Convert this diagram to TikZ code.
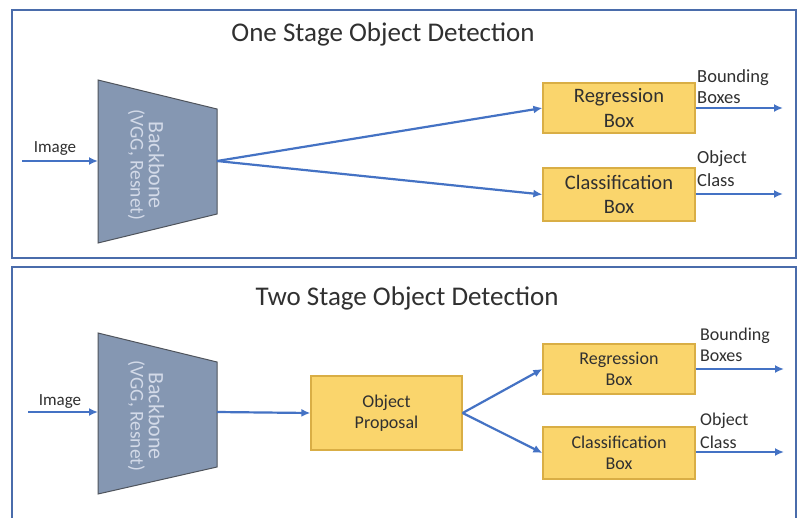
\documentclass[tikz,border=0pt]{standalone}
\usepackage{fontspec}
\setmainfont{Carlito}
\usetikzlibrary{arrows.meta}
\definecolor{panelblue}{HTML}{4A6CAB}
\definecolor{flowblue}{HTML}{4472C4}
\definecolor{boxfill}{HTML}{FAD56C}
\definecolor{boxline}{HTML}{D9AE45}
\definecolor{bbfill}{HTML}{8597B2}
\definecolor{bbline}{HTML}{4F545C}
\definecolor{bbtext}{HTML}{D3DAE8}
\definecolor{inktext}{HTML}{303030}
\newcommand{\fs}[1]{\fontsize{#1}{1.2\dimexpr#1pt\relax}\selectfont}
\tikzset{
  panel/.style={draw=panelblue, line width=2.4pt},
  flow/.style={draw=flowblue, line width=2.2pt, -{Latex[length=9pt,width=8pt]}},
  stagebox/.style={draw=boxline, fill=boxfill, line width=1.2pt, text=inktext,
    align=center, inner sep=0pt, minimum width=152pt},
  backbone/.style={draw=bbline, fill=bbfill, line width=1pt},
  bbtxt/.style={text=bbtext, rotate=-90, align=center, inner sep=0pt},
  title/.style={text=inktext, inner sep=0pt, font=\fs{27}},
  side/.style={text=inktext, inner sep=0pt, align=left, anchor=south west},
}
\begin{document}
\begin{tikzpicture}[x=1pt, y=-1pt]
\useasboundingbox (0,0) rectangle (798,517);
\fill[white] (0,0) rectangle (798,517);

% ---------- panels ----------
\begin{scope}
\clip (0,0) rectangle (798,517);
\draw[panel] (12,10) rectangle (796,258);
\draw[panel] (12,267) rectangle (796,540);
\end{scope}

% ---------- one stage ----------
\node[title, anchor=base] (t1) at (383,41) {One Stage Object Detection};

\draw[backbone] (98,80) -- (217,109) -- (217,214) -- (98,243) -- cycle;
\coordinate (bb1in) at (98,161);
\coordinate (bb1out) at (217,161);
\node[bbtxt] (bb1) at (146,165) {{\fs{22}Backbone}\\[3pt]{\fs{19.5}(VGG, Resnet)}};

\coordinate (img1) at (22,161);
\node[side, font=\fs{17}, anchor=base] (img1lab) at (55,152) {Image};
\draw[flow] (img1) -- (bb1in);

\node[stagebox, minimum height=50pt, font=\fs{20.5}] (reg1) at (619,108) {Regression\\Box};
\node[stagebox, minimum height=53pt, font=\fs{20.5}] (cls1) at (619,194.5) {Classification\\Box};
\draw[flow] (bb1out) -- (reg1.west);
\draw[flow] (bb1out) -- (cls1.west);

\coordinate (out1a) at (783,108);
\coordinate (out1b) at (783,194);
\draw[flow] (reg1.east |- out1a) -- (out1a);
\draw[flow] (cls1.east |- out1b) -- (out1b);
\node[side, font=\fs{18.5}, anchor=base west] (lab1a) at (697,82) {Bounding};
\node[side, font=\fs{18.5}, anchor=base west] (lab1b) at (697,103) {Boxes};
\node[side, font=\fs{18.5}, anchor=base west] (lab1c) at (697,163) {Object};
\node[side, font=\fs{18.5}, anchor=base west] (lab1d) at (697,186) {Class};

% ---------- two stage ----------
\node[title, anchor=base] (t2) at (407,305) {Two Stage Object Detection};

\draw[backbone] (98,333) -- (217,362) -- (217,467) -- (98,494) -- cycle;
\coordinate (bb2in) at (98,412);
\coordinate (bb2out) at (217,412);
\node[bbtxt] (bb2) at (146,416) {{\fs{22}Backbone}\\[3pt]{\fs{19.5}(VGG, Resnet)}};

\coordinate (img2) at (28,412);
\node[side, font=\fs{17}, anchor=base] (img2lab) at (60,405) {Image};
\draw[flow] (img2) -- (bb2in);

\node[stagebox, minimum width=151pt, minimum height=74pt, font=\fs{18}] (prop) at (386.5,413) {Object\\Proposal};
\draw[flow] (bb2out) -- (prop.west);

\node[stagebox, minimum height=50pt, font=\fs{18}] (reg2) at (619,369) {Regression\\Box};
\node[stagebox, minimum height=52pt, font=\fs{18}] (cls2) at (619,453) {Classification\\Box};
\draw[flow] (prop.east) -- (reg2.west);
\draw[flow] (prop.east) -- (cls2.west);

\coordinate (out2a) at (784,369);
\coordinate (out2b) at (784,452);
\draw[flow] (reg2.east |- out2a) -- (out2a);
\draw[flow] (cls2.east |- out2b) -- (out2b);
\node[side, font=\fs{18}, anchor=base west] (lab2a) at (700,340) {Bounding};
\node[side, font=\fs{18}, anchor=base west] (lab2b) at (700,361) {Boxes};
\node[side, font=\fs{18}, anchor=base west] (lab2c) at (700,425) {Object};
\node[side, font=\fs{18}, anchor=base west] (lab2d) at (700,448) {Class};
\end{tikzpicture}
\end{document}
